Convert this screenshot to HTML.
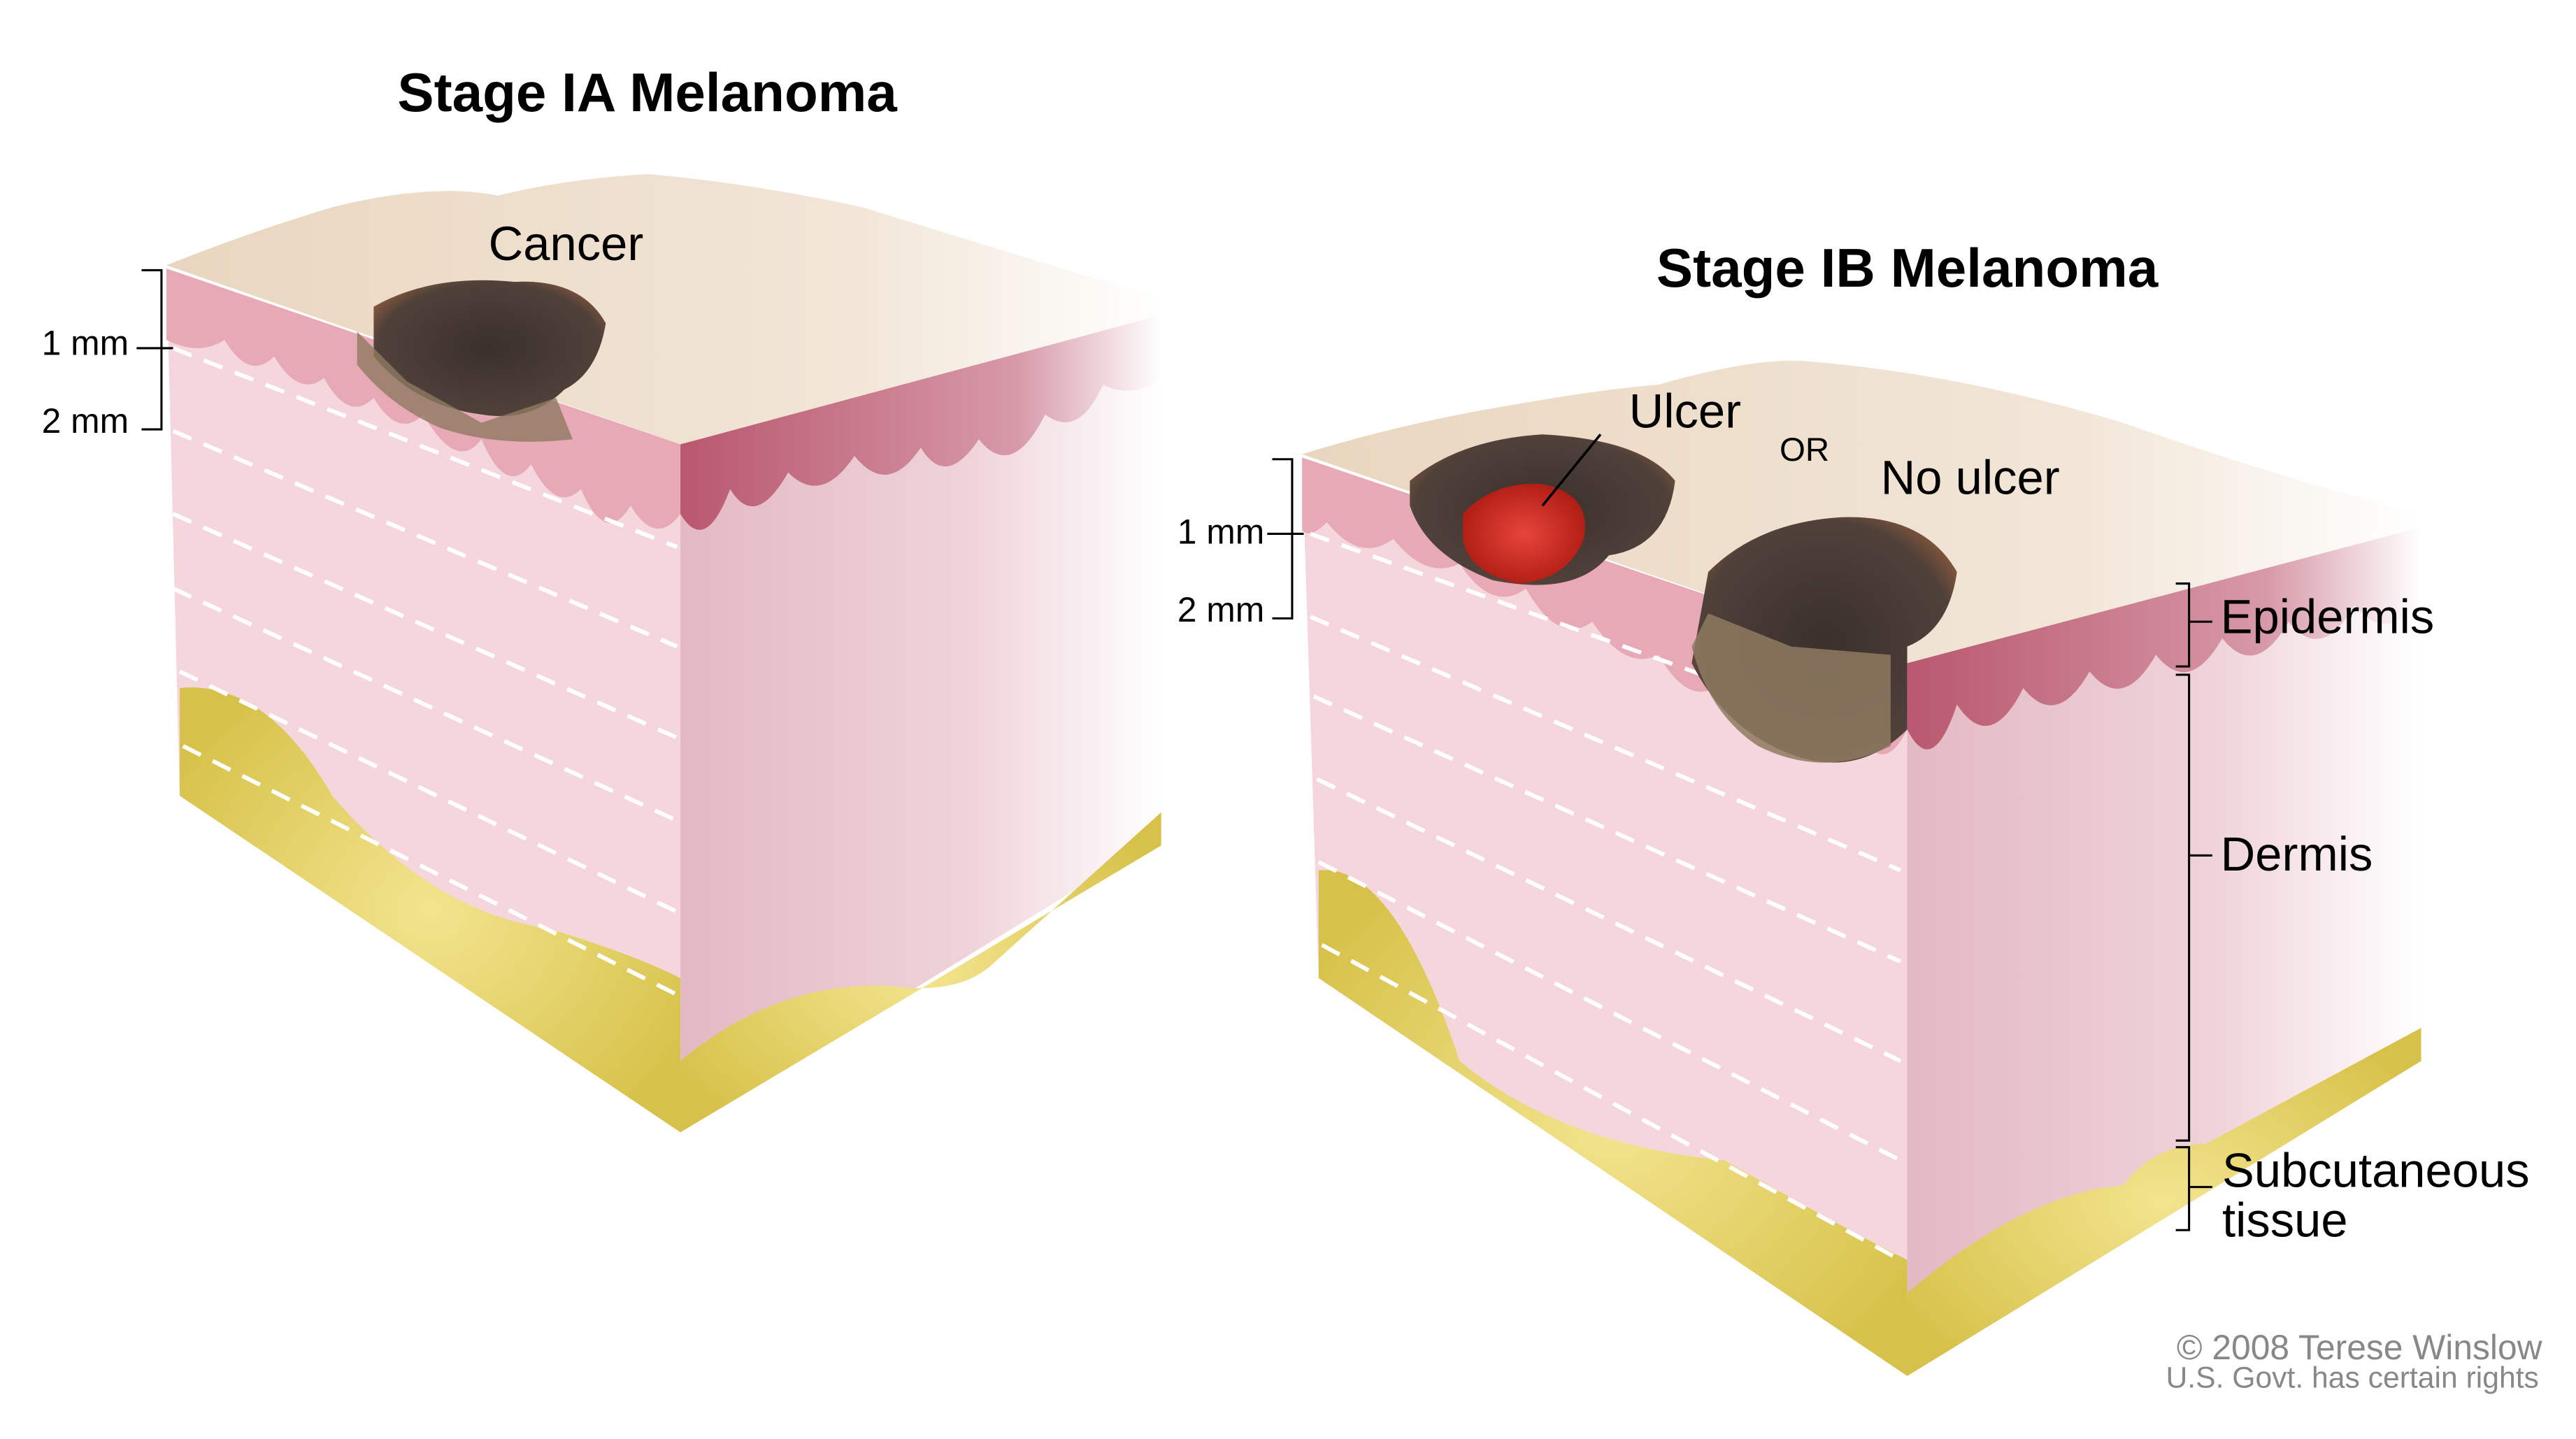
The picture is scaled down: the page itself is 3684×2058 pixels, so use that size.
<!DOCTYPE html>
<html><head><meta charset="utf-8"><style>
html,body{margin:0;padding:0;background:#fff}
svg{display:block}
text{font-family:"Liberation Sans",Arial,sans-serif;fill:#000}
</style></head><body>
<svg width="3684" height="2058" viewBox="0 0 1553 868" xmlns="http://www.w3.org/2000/svg">
<defs>
<linearGradient id="topg" x1="0" y1="0" x2="1" y2="0"><stop offset="0" stop-color="#e9d6bf"/><stop offset="0.7" stop-color="#f2e6d8"/><stop offset="1" stop-color="#fff"/></linearGradient>
<linearGradient id="sideg" x1="0" y1="0" x2="1" y2="0"><stop offset="0" stop-color="#e3b9c3"/><stop offset="0.6" stop-color="#efd3da"/><stop offset="1" stop-color="#fff"/></linearGradient>
<linearGradient id="sidee" x1="0" y1="0" x2="1" y2="0"><stop offset="0" stop-color="#b9586f"/><stop offset="0.7" stop-color="#d799a8"/><stop offset="1" stop-color="#fff"/></linearGradient>
<radialGradient id="fat" cx="0.5" cy="0.5" r="0.6"><stop offset="0" stop-color="#f3e48e"/><stop offset="1" stop-color="#d6c24a"/></radialGradient>
<radialGradient id="les" cx="0.5" cy="0.5" r="0.6"><stop offset="0" stop-color="#3b302c"/><stop offset="0.8" stop-color="#4f403a"/><stop offset="1" stop-color="#8a5a3c"/></radialGradient>
<radialGradient id="ulc" cx="0.5" cy="0.5" r="0.6"><stop offset="0" stop-color="#e8443a"/><stop offset="1" stop-color="#a8180f"/></radialGradient>
</defs>

<text x="390" y="67" font-size="33" font-weight="bold" text-anchor="middle">Stage IA Melanoma</text>
<g>
<polygon points="410,268 700,190 700,505 410,683" fill="url(#sideg)"/>
<path d="M410,268 L700,190 L700,230 Q680,240 665,232 Q650,265 630,250 Q610,290 590,265 Q570,295 555,270 Q535,300 515,275 Q495,305 475,285 Q455,320 440,295 Q425,335 410,310Z" fill="url(#sidee)"/>
<polygon points="100,162 410,268 410,683 108,480" fill="#f5d6dc"/>
<path d="M100,162 L410,268 L410,310 Q395,330 380,305 Q365,330 350,295 Q335,310 320,280 Q305,300 290,265 Q275,285 255,250 Q240,265 225,240 Q210,255 195,228 Q180,240 165,215 Q150,230 135,205 Q120,215 100,205Z" fill="#e7a9b6"/>
<path d="M100,160 Q150,140 200,125 Q260,110 300,118 Q340,108 390,105 Q450,110 520,125 Q600,150 700,180 L700,190 L410,268Z" fill="url(#topg)"/>
<path d="M108,415 Q160,410 200,480 Q260,550 330,560 Q380,575 410,590 L410,683 L108,480Z" fill="url(#fat)"/>
<path d="M410,640 Q470,590 540,595 Q580,600 600,580 L700,490 L700,510 L410,683Z" fill="url(#fat)"/>
<g stroke="#fff" stroke-width="2.5" stroke-dasharray="12,8" fill="none">
<line x1="104" y1="210" x2="408" y2="330"/><line x1="104" y1="260" x2="408" y2="390"/><line x1="104" y1="310" x2="408" y2="445"/><line x1="104" y1="355" x2="408" y2="495"/><line x1="108" y1="405" x2="408" y2="550"/><line x1="110" y1="450" x2="408" y2="600"/>
</g>
<path d="M225,185 Q260,165 310,170 Q350,168 365,195 Q360,225 340,235 Q320,255 290,250 Q250,245 225,215Z" fill="url(#les)"/>
<path d="M215,200 L245,230 L290,255 L335,240 L345,265 Q300,270 265,258 Q235,245 215,220Z" fill="#8f7a60" opacity="0.8"/>
</g>
<text x="341" y="157" font-size="29" text-anchor="middle">Cancer</text>
<g stroke="#000" stroke-width="1.3" fill="none">
<path d="M85,163 L97,163 L97,259 L85,259"/><line x1="82" y1="210" x2="104" y2="210"/></g>
<text x="51" y="214" font-size="21" text-anchor="middle">1 mm</text>
<text x="51" y="261" font-size="21" text-anchor="middle">2 mm</text>

<text x="1150" y="173" font-size="33" font-weight="bold" text-anchor="middle">Stage IB Melanoma</text>
<g>
<polygon points="1150,400 1460,318 1460,640 1150,830" fill="url(#sideg)"/>
<path d="M1150,400 L1460,318 L1460,360 Q1440,390 1420,365 Q1400,400 1380,375 Q1360,410 1340,385 Q1320,420 1300,395 Q1280,430 1260,405 Q1240,440 1220,415 Q1200,455 1180,425 Q1165,470 1150,440Z" fill="url(#sidee)"/>
<polygon points="785,276 1150,400 1150,830 795,590" fill="#f5d6dc"/>
<path d="M785,276 L1150,400 L1150,440 Q1135,470 1120,440 Q1100,460 1080,430 Q1060,450 1040,410 Q1020,430 1000,395 Q980,405 960,375 Q940,390 920,355 Q900,370 880,340 Q860,350 840,325 Q820,340 800,315 Q790,325 785,320Z" fill="#e7a9b6"/>
<path d="M785,274 Q830,260 880,250 Q960,235 1000,232 Q1060,215 1090,218 Q1180,225 1280,255 Q1380,290 1460,310 L1460,318 L1150,400Z" fill="url(#topg)"/>
<path d="M795,525 Q840,520 880,640 Q940,690 1040,700 Q1110,740 1150,760 L1150,830 L795,590Z" fill="url(#fat)"/>
<path d="M1150,780 Q1220,720 1280,715 Q1300,690 1330,690 L1460,620 L1460,640 L1150,830Z" fill="url(#fat)"/>
<g stroke="#fff" stroke-width="2.5" stroke-dasharray="12,8" fill="none">
<line x1="790" y1="322" x2="1146" y2="450"/><line x1="790" y1="372" x2="1146" y2="525"/><line x1="792" y1="420" x2="1146" y2="580"/><line x1="794" y1="470" x2="1146" y2="640"/><line x1="795" y1="520" x2="1146" y2="700"/><line x1="797" y1="570" x2="1146" y2="760"/>
</g>
<path d="M850,290 Q880,265 930,262 Q990,265 1010,290 Q1005,330 970,335 Q950,360 900,350 Q860,335 850,305Z" fill="url(#les)"/>
<path d="M882,310 Q900,290 930,292 Q960,298 955,325 Q945,350 915,352 Q885,345 882,325Z" fill="url(#ulc)"/>
<path d="M1030,345 Q1060,315 1110,312 Q1160,310 1180,345 Q1175,380 1150,390 L1150,440 Q1120,470 1080,455 Q1040,440 1020,400Z" fill="url(#les)"/>
<path d="M1030,370 L1080,390 L1140,395 L1140,450 Q1100,470 1060,450 Q1030,430 1020,390Z" fill="#8f7a60" opacity="0.85"/>
</g>
<line x1="965" y1="262" x2="930" y2="305" stroke="#000" stroke-width="1.5"/>
<text x="1016" y="258" font-size="29" text-anchor="middle">Ulcer</text>
<text x="1088" y="278" font-size="20" text-anchor="middle">OR</text>
<text x="1188" y="298" font-size="29" text-anchor="middle">No ulcer</text>
<g stroke="#000" stroke-width="1.3" fill="none">
<path d="M767,277 L779,277 L779,373 L767,373"/><line x1="764" y1="322" x2="786" y2="322"/></g>
<text x="736" y="328" font-size="21" text-anchor="middle">1 mm</text>
<text x="736" y="375" font-size="21" text-anchor="middle">2 mm</text>
<g stroke="#000" stroke-width="1.3" fill="none">
<path d="M1312,352 L1320,352 L1320,402 L1312,402"/><line x1="1320" y1="375" x2="1334" y2="375"/>
<path d="M1312,407 L1320,407 L1320,688 L1312,688"/><line x1="1320" y1="516" x2="1334" y2="516"/>
<path d="M1312,692 L1320,692 L1320,742 L1312,742"/><line x1="1320" y1="716" x2="1334" y2="716"/>
</g>
<text x="1339" y="382" font-size="29">Epidermis</text>
<text x="1339" y="525" font-size="29">Dermis</text>
<text x="1340" y="716" font-size="29">Subcutaneous</text>
<text x="1340" y="746" font-size="29">tissue</text>
<text x="1533" y="820" font-size="21" text-anchor="end" style="fill:#888">© 2008 Terese Winslow</text>
<text x="1531" y="837" font-size="18" text-anchor="end" style="fill:#888">U.S. Govt. has certain rights</text>
</svg>
</body></html>
